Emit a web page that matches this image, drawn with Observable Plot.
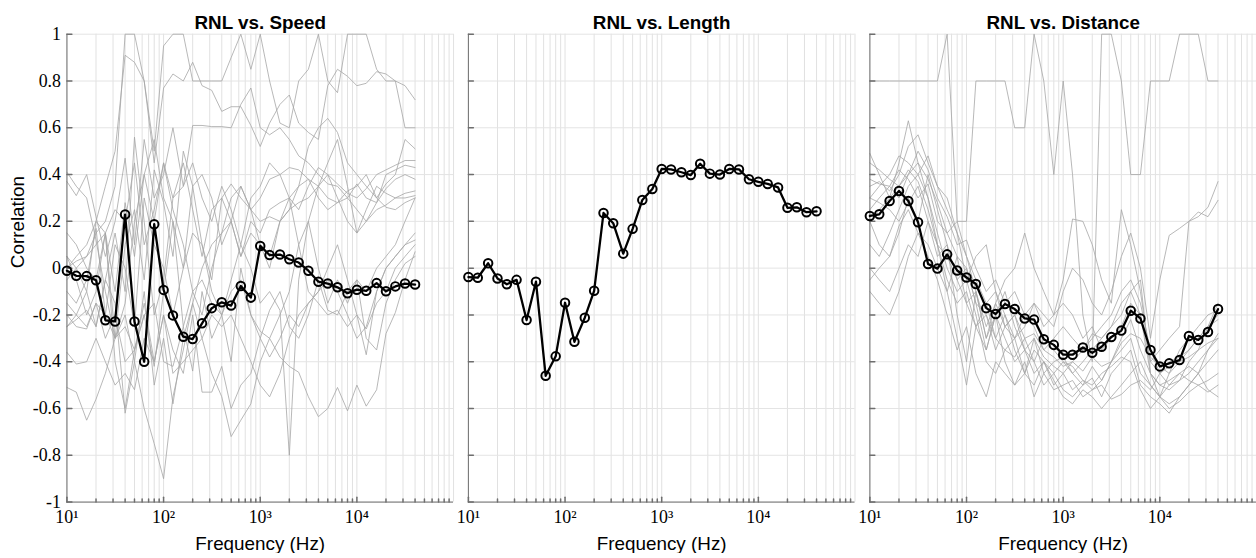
<!DOCTYPE html>
<html>
<head>
<meta charset="utf-8">
<script src="https://cdn.jsdelivr.net/npm/d3@7"></script>
<script src="https://cdn.jsdelivr.net/npm/@observablehq/plot@0.6"></script>
<style>
  html, body { margin: 0; padding: 0; background: #fff; overflow: hidden; }
  #chart { width: 1256px; height: 558px; overflow: hidden; }
</style>
</head>
<body>
<div id="chart"></div>
<script>
// One-third-octave band centre frequencies (Hz)
const freqs = [10,12.5,16,20,25,31.5,40,50,63,80,100,125,160,200,250,315,400,500,630,800,
  1000,1250,1600,2000,2500,3150,4000,5000,6300,8000,10000,12500,16000,20000,25000,31500,40000];

const panels = ["RNL vs. Speed", "RNL vs. Length", "RNL vs. Distance"];

// Overall correlation per band
const speedMean = [-0.011,-0.033,-0.034,-0.052,-0.223,-0.228,0.229,-0.228,-0.40,0.188,
  -0.093,-0.202,-0.293,-0.303,-0.236,-0.171,-0.146,-0.16,-0.076,-0.126,
  0.095,0.056,0.058,0.038,0.024,-0.011,-0.058,-0.066,-0.082,-0.107,
  -0.092,-0.097,-0.064,-0.099,-0.078,-0.066,-0.07];
const lengthMean = [-0.038,-0.041,0.021,-0.044,-0.069,-0.05,-0.222,-0.058,-0.46,-0.377,
  -0.148,-0.315,-0.212,-0.097,0.236,0.192,0.062,0.168,0.291,0.338,
  0.424,0.422,0.41,0.398,0.446,0.404,0.40,0.424,0.422,0.38,
  0.369,0.36,0.345,0.258,0.26,0.239,0.243];
const distanceMean = [0.223,0.23,0.287,0.33,0.287,0.196,0.018,-0.002,0.059,-0.01,
  -0.04,-0.068,-0.171,-0.196,-0.153,-0.175,-0.215,-0.22,-0.304,-0.328,
  -0.37,-0.37,-0.339,-0.362,-0.336,-0.294,-0.267,-0.182,-0.215,-0.35,
  -0.42,-0.407,-0.393,-0.29,-0.307,-0.273,-0.175];

// Individual subset correlations (thin grey traces)
const speedRuns = [
  [0.37,0.31,0.40,0.22,0.05,0.20,0.47,0.10,0.55,0.30, 0.40,0.60,0.35,0.45,0.30,0.20,0.35,0.25,0.10,0.30, 0.35,0.45,0.40,0.30,0.25,0.35,0.43,0.40,0.36,0.32, 0.30,0.34,0.40,0.42,0.44,0.46,0.46],
  [0.41,0.35,0.30,0.12,-0.10,-0.30,0.10,0.25,-0.05,0.42, 0.28,0.05,0.50,0.35,0.10,-0.05,0.30,0.36,0.30,0.25, 0.10,0.05,0.20,0.25,0.35,0.52,0.60,0.64,0.58,0.45, 0.40,0.35,0.30,0.36,0.40,0.55,0.51],
  [0.00,0.05,0.10,0.20,0.35,0.50,0.91,0.88,0.80,0.45, 0.77,0.83,0.80,0.88,0.78,0.76,0.67,0.69,0.69,0.61, 0.52,0.62,0.70,0.74,0.62,0.58,0.55,0.78,0.85,0.82, 0.78,0.79,0.84,0.83,0.80,0.78,0.72],
  [-0.05,0.00,0.05,0.15,0.20,0.35,1.00,1.00,0.80,0.50, 0.95,1.00,1.00,0.80,0.80,0.80,0.80,0.90,1.00,0.85, 1.00,0.80,0.62,0.60,0.80,0.85,1.00,0.80,0.75,1.00, 1.00,1.00,0.85,0.80,0.80,0.60,0.60],
  [0.05,-0.05,-0.20,-0.10,0.15,0.25,0.20,0.45,0.10,0.25, 0.45,0.30,0.35,0.61,0.61,0.605,0.605,0.60,0.70,0.77, 0.60,0.57,0.60,0.55,0.48,0.45,0.40,0.36,0.35,0.30, 0.36,0.30,0.28,0.34,0.38,0.40,0.38],
  [-0.51,-0.53,-0.65,-0.56,-0.45,-0.30,-0.20,-0.40,-0.60,-0.75, -0.90,-0.55,-0.35,-0.15,0.00,0.10,0.15,0.20,0.05,0.20, 0.15,0.25,0.28,0.30,0.35,0.38,0.30,0.25,0.28,0.33, 0.35,0.40,0.30,0.26,0.25,0.28,0.30],
  [-0.36,-0.41,-0.40,-0.30,-0.40,-0.50,-0.45,-0.52,-0.30,-0.40, -0.20,-0.35,-0.45,-0.20,-0.53,-0.53,-0.42,-0.60,-0.50,-0.45, -0.30,-0.18,-0.10,-0.25,-0.30,-0.20,-0.05,-0.18,-0.20,-0.10, -0.05,-0.10,0.00,0.05,0.10,0.20,0.30],
  [-0.25,-0.20,-0.25,-0.15,-0.30,-0.20,-0.40,-0.35,-0.15,-0.40, -0.20,-0.45,-0.40,-0.35,-0.30,-0.45,-0.55,-0.72,-0.65,-0.58, -0.40,-0.30,-0.20,-0.10,0.10,0.20,0.35,0.40,0.30,0.20, 0.15,0.20,0.25,0.27,0.30,0.32,0.33],
  [-0.20,-0.25,-0.26,-0.15,-0.20,-0.30,-0.25,-0.35,-0.20,-0.15, -0.40,-0.42,-0.25,-0.10,-0.05,-0.15,-0.20,-0.10,-0.05,-0.20, -0.27,-0.30,-0.38,-0.42,-0.445,-0.55,-0.635,-0.60,-0.51,-0.61, -0.50,-0.59,-0.52,-0.28,-0.19,-0.05,0.07],
  [0.05,0.00,-0.10,0.20,0.15,-0.10,0.28,0.05,0.40,0.20, 0.45,0.25,0.10,-0.10,-0.20,0.00,0.15,0.30,0.35,0.25, 0.30,0.38,0.40,0.43,0.42,0.38,0.35,0.30,0.28,0.30, 0.25,0.20,0.28,0.40,0.42,0.44,0.43],
  [-0.15,-0.20,-0.10,-0.25,-0.05,0.15,-0.10,0.56,0.20,-0.20, -0.05,0.30,0.45,0.25,0.05,0.25,0.30,0.20,0.35,0.25, 0.20,0.22,0.20,0.25,0.28,0.30,0.35,0.45,0.55,0.35, 0.15,0.25,0.35,0.32,0.30,0.30,0.31],
  [0.00,0.03,0.05,0.10,0.15,-0.40,-0.60,-0.35,-0.20,-0.42, -0.10,0.20,-0.25,-0.44,-0.10,-0.30,-0.20,-0.40,0.00,-0.20, -0.30,-0.38,-0.30,-0.20,-0.25,-0.15,-0.10,0.00,0.10,-0.05, -0.20,-0.26,-0.15,-0.10,0.00,0.05,0.10],
  [-0.10,-0.15,-0.05,0.17,-0.20,0.10,0.00,-0.25,0.30,0.10, 0.00,-0.20,0.00,0.15,0.10,-0.10,-0.20,-0.05,0.10,0.00, -0.15,-0.10,-0.18,-0.80,-0.05,0.20,0.00,-0.15,-0.05,-0.15, -0.05,-0.30,-0.35,-0.15,-0.05,0.02,0.05],
  [0.15,0.10,0.00,-0.05,0.15,-0.30,-0.15,0.20,0.40,0.55, 0.30,0.20,0.00,0.35,0.40,0.30,0.10,0.20,0.05,0.15, 0.10,0.00,0.20,0.30,0.10,-0.10,-0.15,-0.20,-0.18,-0.25, -0.20,-0.37,-0.10,0.00,0.05,0.10,0.15],
  [-0.25,-0.22,-0.18,-0.25,-0.05,-0.15,-0.62,-0.40,-0.10,-0.50, -0.30,-0.58,-0.30,-0.15,-0.30,-0.20,-0.25,-0.20,-0.30,-0.40, -0.50,-0.55,-0.45,-0.30,-0.20,-0.15,-0.10,-0.05,-0.10,-0.20, -0.30,-0.25,-0.10,0.00,0.05,0.10,0.12]
];

const distanceRuns = [
  [0.8,0.8,0.8,0.8,0.8,0.8,0.8,0.8,1.0,0.2, 0.2,0.8,0.8,0.8,0.8,0.6,0.6,1.0,0.8,0.4, 0.8,0.4,-0.2,-0.4,1.0,1.0,0.8,0.4,0.4,0.8, 0.8,0.8,1.0,1.0,1.0,0.8,0.8],
  [0.30,0.35,0.40,0.48,0.45,0.40,0.30,0.15,0.00,-0.10, -0.05,0.05,0.10,-0.10,-0.20,-0.30,-0.25,-0.15,-0.20,-0.25, -0.10,0.00,-0.05,-0.15,-0.20,-0.10,0.05,0.15,0.00,-0.30, -0.05,0.14,0.17,0.20,0.22,0.26,0.37],
  [0.20,0.25,0.30,0.35,0.42,0.37,0.25,0.10,0.05,-0.05, -0.15,-0.10,-0.25,-0.15,-0.05,0.00,0.15,0.00,-0.10,-0.20, -0.05,0.21,0.20,0.10,-0.05,-0.15,0.25,0.10,-0.10,-0.40, -0.35,-0.30,-0.25,0.20,0.24,0.22,0.29],
  [0.49,0.40,0.30,0.45,0.63,0.45,0.30,0.10,-0.05,-0.15, -0.10,-0.25,-0.35,-0.20,-0.30,-0.40,-0.35,-0.45,-0.40,-0.50, -0.45,-0.40,-0.35,-0.30,-0.25,-0.20,-0.10,-0.05,-0.15,-0.35, -0.45,-0.50,-0.48,-0.40,-0.35,-0.25,-0.15],
  [0.35,0.37,0.33,0.40,0.52,0.57,0.45,0.35,0.30,0.15, 0.05,-0.10,-0.30,-0.15,-0.25,-0.20,-0.35,-0.30,-0.45,-0.40, -0.38,-0.45,-0.50,-0.42,-0.48,-0.40,-0.35,-0.30,-0.45,-0.50, -0.55,-0.58,-0.55,-0.50,-0.45,-0.35,-0.28],
  [0.38,0.36,0.35,0.42,0.38,0.30,0.36,0.20,0.15,0.05, 0.00,-0.15,-0.20,-0.30,-0.35,-0.30,-0.45,-0.50,-0.40,-0.45, -0.52,-0.55,-0.50,-0.47,-0.55,-0.45,-0.40,-0.35,-0.50,-0.55, -0.58,-0.62,-0.55,-0.50,-0.45,-0.40,-0.35],
  [0.10,0.05,0.15,0.25,0.35,0.40,0.48,0.35,0.25,0.15, -0.05,-0.20,-0.40,-0.45,-0.35,-0.38,-0.30,-0.40,-0.50,-0.45, -0.40,-0.42,-0.48,-0.52,-0.50,-0.56,-0.54,-0.50,-0.48,-0.52, -0.45,-0.40,-0.38,-0.35,-0.30,-0.25,-0.20],
  [-0.05,0.00,0.05,0.15,0.30,0.20,0.40,0.25,0.10,-0.20, -0.40,-0.10,-0.30,-0.20,-0.10,-0.25,-0.35,-0.40,-0.30,-0.35, -0.40,-0.45,-0.40,-0.35,-0.30,-0.25,-0.15,-0.10,-0.05,-0.45, -0.55,-0.45,-0.35,-0.30,-0.25,-0.20,-0.18],
  [0.20,0.10,0.05,0.18,0.25,0.15,0.05,-0.05,-0.20,-0.35, -0.25,-0.45,-0.55,-0.40,-0.45,-0.50,-0.45,-0.35,-0.40,-0.48, -0.55,-0.58,-0.52,-0.55,-0.60,-0.55,-0.50,-0.45,-0.40,-0.50, -0.55,-0.60,-0.57,-0.53,-0.50,-0.48,-0.45],
  [0.30,0.28,0.25,0.20,0.28,0.35,0.20,0.05,0.10,-0.05, 0.00,-0.15,-0.35,-0.20,-0.40,-0.50,-0.40,-0.55,-0.45,-0.52, -0.50,-0.48,-0.55,-0.52,-0.48,-0.40,-0.30,-0.22,-0.35,-0.45, -0.50,-0.48,-0.45,-0.42,-0.45,-0.52,-0.55],
  [0.00,-0.05,-0.10,0.00,0.10,0.05,0.20,0.10,-0.10,0.05, -0.15,-0.25,-0.20,-0.35,-0.25,-0.30,-0.20,-0.25,-0.35,-0.30, -0.25,-0.30,-0.35,-0.28,-0.30,-0.25,-0.20,-0.10,-0.20,-0.40, -0.45,-0.42,-0.40,-0.38,-0.35,-0.32,-0.30],
  [0.25,0.30,0.35,0.30,0.40,0.50,0.42,0.30,0.22,0.10, 0.12,0.00,-0.10,-0.05,-0.15,-0.10,-0.20,-0.15,-0.25,-0.20, -0.15,-0.20,-0.30,-0.25,-0.35,-0.30,-0.25,-0.15,-0.20,-0.45, -0.50,-0.52,-0.48,-0.45,-0.40,-0.35,-0.30],
  [0.45,0.42,0.38,0.35,0.40,0.45,0.38,0.28,0.15,0.20, 0.05,-0.05,-0.15,-0.10,-0.25,-0.20,-0.30,-0.28,-0.35,-0.38, -0.42,-0.40,-0.44,-0.38,-0.42,-0.40,-0.32,-0.28,-0.30,-0.38, -0.42,-0.45,-0.40,-0.35,-0.30,-0.25,-0.22],
  [-0.10,-0.15,-0.20,-0.10,0.05,0.15,0.10,0.00,-0.10,-0.30, -0.50,-0.25,-0.15,-0.30,-0.20,-0.35,-0.45,-0.30,-0.38,-0.42, -0.45,-0.52,-0.48,-0.50,-0.45,-0.42,-0.38,-0.40,-0.52,-0.60, -0.55,-0.50,-0.45,-0.48,-0.50,-0.53,-0.50]
];

// Axis ticks
const yTicks = [-1,-0.8,-0.6,-0.4,-0.2,0,0.2,0.4,0.6,0.8,1];
const decadeTicks = [10, 100, 1000, 10000];
const minorTicks = [];
for (const dec of [10, 100, 1000, 10000]) for (let m = 2; m <= 9; m++) minorTicks.push(m * dec);
const gridFreqs = [...decadeTicks, ...minorTicks, 100000];

const superscript = {1: "\u00b9", 2: "\u00b2", 3: "\u00b3", 4: "\u2074", 5: "\u2075"};
const formatDecade = d => "10" + superscript[Math.round(Math.log10(d))];
const formatCorr = d => (Math.abs(d) < 1e-9 ? "0" : String(+d.toFixed(1)));

// Long-form tables for the marks
const meanRows = [];
[speedMean, lengthMean, distanceMean].forEach((vals, p) =>
  vals.forEach((r, i) => meanRows.push({panel: panels[p], f: freqs[i], r})));
const runRows = [];
[[0, speedRuns], [2, distanceRuns]].forEach(([p, runs]) =>
  runs.forEach((vals, k) => vals.forEach((r, i) =>
    runRows.push({panel: panels[p], run: `${p}-${k}`, f: freqs[i], r}))));

const axisGray = "#6e6e6e";
const serif = "'Liberation Serif', 'DejaVu Serif', serif";

// Plain inward tick: a straight stroke with no arrow head
const tickShape = {draw(context, length) { context.moveTo(0, 0); context.lineTo(0, -length); }};

const chart = Plot.plot({
  width: 1267,
  height: 558,
  marginLeft: 67,
  marginRight: 0,
  marginTop: 34,
  marginBottom: 52,
  style: {fontFamily: "'Liberation Sans', Arial, sans-serif", background: "#fff", color: "#000"},
  fx: {domain: panels, paddingInner: 15 / 405, paddingOuter: 0, label: null},
  x: {type: "log", domain: [10, 100000]},
  y: {domain: [-1, 1]},
  marks: [
    Plot.gridX(gridFreqs, {stroke: "#e1e1e1", strokeOpacity: 1, strokeWidth: 1}),
    Plot.gridY(yTicks, {stroke: "#e4e4e4", strokeOpacity: 1, strokeWidth: 1}),
    Plot.line(runRows, {fx: "panel", x: "f", y: "r", z: "run", stroke: "#a6a6a6", strokeWidth: 0.8}),
    Plot.ruleX([10], {stroke: axisGray, strokeWidth: 1}),
    Plot.ruleY([-1], {stroke: axisGray, strokeWidth: 1}),
    Plot.vector(yTicks, {y: d => d, frameAnchor: "left", length: 5, rotate: 90, anchor: "start", shape: tickShape, stroke: axisGray}),
    Plot.vector(decadeTicks, {x: d => d, frameAnchor: "bottom", length: 5, rotate: 0, anchor: "start", shape: tickShape, stroke: axisGray}),
    Plot.vector(minorTicks, {x: d => d, frameAnchor: "bottom", length: 3, rotate: 0, anchor: "start", shape: tickShape, stroke: axisGray}),
    Plot.axisX({ticks: decadeTicks, tickSize: 0, tickPadding: 8, tickFormat: formatDecade, label: null, fontFamily: serif, fontSize: 18}),
    Plot.axisY({ticks: yTicks, tickSize: 0, tickPadding: 6, tickFormat: formatCorr, label: null, fontFamily: serif, fontSize: 18}),
    Plot.axisFx({anchor: "top", tickSize: 0, tickPadding: 5, label: null, fontSize: 19, fontWeight: "bold"}),
    Plot.text(["Frequency (Hz)"], {frameAnchor: "bottom", dy: 48, fontSize: 19}),
    Plot.text([{panel: panels[0], t: "Correlation"}], {fx: "panel", text: "t", frameAnchor: "left", rotate: -90, dx: -49, fontSize: 19}),
    Plot.line(meanRows, {fx: "panel", x: "f", y: "r", stroke: "#000", strokeWidth: 2.3}),
    Plot.dot(meanRows, {fx: "panel", x: "f", y: "r", r: 4.3, stroke: "#000", strokeWidth: 2, fill: "none"})
  ]
});

document.getElementById("chart").append(chart);
</script>
</body>
</html>
